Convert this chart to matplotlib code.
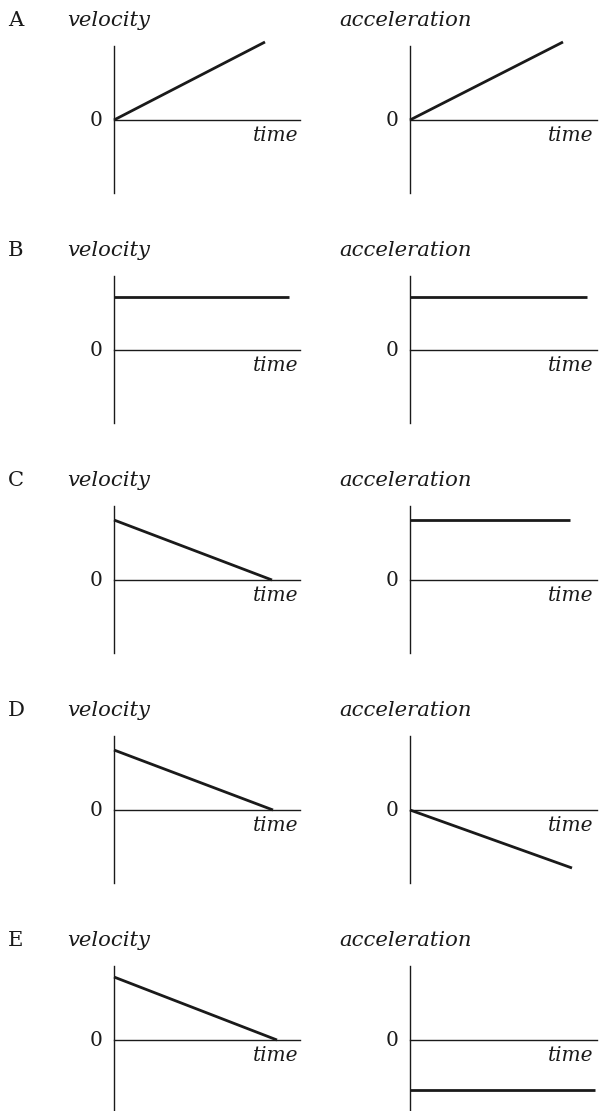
import matplotlib
matplotlib.use("Agg")
import matplotlib.pyplot as plt

# ---- data (units: arbitrary) ----
options = ["A", "B", "C", "D", "E"]
# each graph: time points and values
vel_t = [[0, 151], [0, 175], [0, 158], [0, 159], [0, 163]]
vel_v = [[0, 78], [53, 53], [60, 0], [60, 0], [63, 0]]
acc_t = [[0, 153], [0, 177], [0, 160], [0, 162], [0, 185]]
acc_v = [[0, 78], [53, 53], [60, 60], [0, -58], [-50, -50]]
quantities = ["velocity", "acceleration"]
x_label = "time"
zero_label = "0"

W, H = 599, 1111
fig = plt.figure(figsize=(W / 100, H / 100), dpi=100)
fig.patch.set_facecolor("white")

ink = "#1a1a1a"
fs = 14.5
fs_q = 15.2
serif = ["DejaVu Serif"]

def fx(px):
    return px / W

def fy(py):
    return 1 - py / H

panel_dy = 230
zero0 = 120
axis_left = [114, 410]
axis_right = [300, 597]
ymax, ymin = 74, -73

for i, opt in enumerate(options):
    zero = zero0 + panel_dy * i
    series = [(vel_t[i], vel_v[i]), (acc_t[i], acc_v[i])]
    for j in range(2):
        x0 = axis_left[j]
        x1 = axis_right[j]
        ax = fig.add_axes([fx(x0), fy(zero - ymin), (x1 - x0) / W, (ymax - ymin) / H])
        ax.set_xlim(0, x1 - x0)
        ax.set_ylim(ymin, ymax)
        ax.patch.set_alpha(0)
        for s in ["top", "right"]:
            ax.spines[s].set_visible(False)
        ax.spines["left"].set_position(("data", 0))
        ax.spines["bottom"].set_position(("data", 0))
        for s in ["left", "bottom"]:
            ax.spines[s].set_linewidth(1.0)
            ax.spines[s].set_color(ink)
        ax.set_xticks([])
        ax.set_yticks([])
        t, v = series[j]
        ax.plot(t, v, color=ink, lw=2.0, solid_capstyle="butt", clip_on=False)

        # labels
        fig.text(fx(x0 - 18), fy(zero), zero_label, ha="center", va="center",
                 fontsize=fs, family=serif, color=ink)
        fig.text(fx(x1 - 2 if j == 0 else x1 - 4), fy(zero + 21), x_label,
                 ha="right", va="baseline", fontsize=fs, family=serif,
                 style="italic", color=ink)
        qx = 67 if j == 0 else 339
        fig.text(fx(qx), fy(26 + panel_dy * i), quantities[j], ha="left",
                 va="baseline", fontsize=fs_q, family=serif, style="italic",
                 color=ink)
    fig.text(fx(8), fy(26 + panel_dy * i), opt, ha="left", va="baseline",
             fontsize=fs_q, family=serif, color=ink)

fig.savefig("out.png", dpi=100, facecolor="white")
